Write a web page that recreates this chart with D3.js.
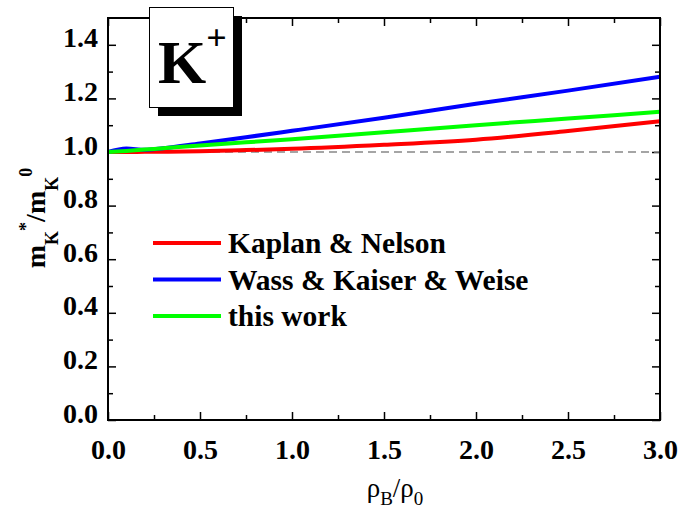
<!DOCTYPE html>
<html>
<head>
<meta charset="utf-8">
<script src="https://cdn.jsdelivr.net/npm/d3@7"></script>
<style>
  body { margin: 0; background: #fff; }
  svg { display: block; }
</style>
</head>
<body>
<div id="chart"></div>
<script>
// density values (rho_B / rho_0)
const rho = [0, 0.1, 0.2, 0.3, 0.5, 0.75, 1.0, 1.5, 2.0, 2.5, 3.0];

// effective mass ratio m*_K / m0_K for each model
const kaplanNelson = [1.0, 1.0, 1.0005, 1.001, 1.003, 1.007, 1.012, 1.027, 1.046, 1.078, 1.115];
const wassKaiserWeise = [1.0, 1.013, 1.008, 1.014, 1.032, 1.055, 1.079, 1.128, 1.18, 1.229, 1.281];
const thisWork = [1.0, 1.004, 1.009, 1.014, 1.024, 1.036, 1.048, 1.074, 1.1, 1.125, 1.15];

const seriesNames = ["Kaplan & Nelson", "Wass & Kaiser & Weise", "this work"];
const seriesColors = ["#ff0000", "#0000ff", "#00ff00"];

const xTicks = [0, 0.5, 1.0, 1.5, 2.0, 2.5, 3.0];
const yTicks = [0, 0.2, 0.4, 0.6, 0.8, 1.0, 1.2, 1.4];

const serif = "'Liberation Serif', 'DejaVu Serif', 'Times New Roman', serif";

const size = {width: 683, height: 509};
const margin = {top: 18, right: 23, bottom: 89, left: 108};
const width = size.width - margin.left - margin.right;
const height = size.height - margin.top - margin.bottom;

const svg = d3.select("#chart").append("svg")
    .attr("width", size.width)
    .attr("height", size.height)
    .style("font-family", serif);

const g = svg.append("g")
    .attr("transform", "translate(" + margin.left + "," + margin.top + ")");

const x = d3.scaleLinear().domain([0, 3.0]).range([0, width]);
const y = d3.scaleLinear().domain([0, 1.5]).range([height, 0]);

const minorX = d3.range(0.25, 3.0, 0.5);
const minorY = d3.range(0.1, 1.5, 0.2);

const fmt = d3.format(".1f");

// axes: ticks point inward on all four sides
function styleAxis(sel) {
    sel.attr("font-family", null);
    sel.select(".domain").remove();
    sel.selectAll("line").attr("stroke", "#000").attr("stroke-width", 1.5);
}

g.append("g")
    .attr("transform", "translate(0," + height + ")")
    .call(d3.axisBottom(x).tickValues(xTicks).tickSize(-8).tickPadding(0).tickFormat(fmt))
    .call(styleAxis)
    .call(a => a.selectAll("text")
        .attr("y", 39).attr("dy", 0)
        .style("font-family", serif)
        .attr("font-size", 28).attr("font-weight", "bold").attr("fill", "#000"));
g.append("g")
    .attr("transform", "translate(0," + height + ")")
    .call(d3.axisBottom(x).tickValues(minorX).tickSize(-5).tickFormat(""))
    .call(styleAxis);
g.append("g")
    .call(d3.axisTop(x).tickValues(xTicks).tickSize(-8).tickFormat(""))
    .call(styleAxis);
g.append("g")
    .call(d3.axisTop(x).tickValues(minorX).tickSize(-5).tickFormat(""))
    .call(styleAxis);

g.append("g")
    .call(d3.axisLeft(y).tickValues(yTicks).tickSize(-8).tickPadding(10).tickFormat(fmt))
    .call(styleAxis)
    .call(a => a.selectAll("text")
        .attr("dy", 2)
        .style("font-family", serif)
        .attr("font-size", 28).attr("font-weight", "bold").attr("fill", "#000"));
g.append("g")
    .call(d3.axisLeft(y).tickValues(minorY).tickSize(-5).tickFormat(""))
    .call(styleAxis);
g.append("g")
    .attr("transform", "translate(" + width + ",0)")
    .call(d3.axisRight(y).tickValues(yTicks).tickSize(-8).tickFormat(""))
    .call(styleAxis);
g.append("g")
    .attr("transform", "translate(" + width + ",0)")
    .call(d3.axisRight(y).tickValues(minorY).tickSize(-5).tickFormat(""))
    .call(styleAxis);

// reference line at 1.0
g.append("line")
    .attr("x1", 0).attr("x2", width)
    .attr("y1", y(1.0)).attr("y2", y(1.0))
    .attr("stroke", "#888").attr("stroke-width", 1.5)
    .attr("stroke-dasharray", "8,5");

// curves
const line = d3.line()
    .x((d, i) => x(rho[i]))
    .y(d => y(d))
    .curve(d3.curveMonotoneX);

[kaplanNelson, wassKaiserWeise, thisWork].forEach((vals, i) => {
    g.append("path")
        .datum(vals)
        .attr("fill", "none")
        .attr("stroke", seriesColors[i])
        .attr("stroke-width", 4)
        .attr("d", line);
});

// frame
g.append("rect")
    .attr("width", width).attr("height", height)
    .attr("fill", "none").attr("stroke", "#000").attr("stroke-width", 2);

// legend
const legend = svg.append("g").attr("transform", "translate(153,243)");
seriesNames.forEach((name, i) => {
    const row = legend.append("g").attr("transform", "translate(0," + (i * 36.5) + ")");
    row.append("line")
        .attr("x1", 0).attr("x2", 68)
        .attr("stroke", seriesColors[i]).attr("stroke-width", 4);
    row.append("text")
        .attr("x", 75).attr("y", 10)
        .style("font-family", serif)
        .attr("font-size", 29.5).attr("font-weight", "bold")
        .text(name);
});

// K+ label box with drop shadow
const box = svg.append("g");
box.append("rect")
    .attr("x", 158).attr("y", 16).attr("width", 84).attr("height", 100)
    .attr("fill", "#000");
box.append("rect")
    .attr("x", 149.5).attr("y", 7.5).attr("width", 84).attr("height", 100)
    .attr("fill", "#fff").attr("stroke", "#000").attr("stroke-width", 1);
const kText = box.append("text")
    .attr("x", 158).attr("y", 83)
    .style("font-family", serif)
    .attr("font-weight", "bold");
kText.append("tspan").attr("font-size", 62).text("K");
kText.append("tspan").attr("font-size", 36).attr("dy", -33).text("+");

// y axis title
const yTitle = svg.append("text")
    .attr("transform", "translate(45,218) rotate(-90)")
    .attr("text-anchor", "middle")
    .style("font-family", serif)
    .attr("font-weight", "bold")
    .attr("font-size", 28);
yTitle.append("tspan").text("m");
yTitle.append("tspan").attr("font-size", 18).attr("dy", 13).text("K");
yTitle.append("tspan").attr("font-size", 18).attr("dy", -26).text("*");
yTitle.append("tspan").attr("dy", 13).text("/m");
yTitle.append("tspan").attr("font-size", 18).attr("dy", 13).text("K");
yTitle.append("tspan").attr("font-size", 18).attr("dy", -26).text("0");

// x axis title
const xTitle = svg.append("text")
    .attr("x", 395).attr("y", 497)
    .attr("text-anchor", "middle")
    .style("font-family", serif)
    .attr("font-size", 27);
xTitle.append("tspan").text("ρ");
xTitle.append("tspan").attr("font-size", 19).attr("dy", 8).text("B");
xTitle.append("tspan").attr("dy", -8).text("/ρ");
xTitle.append("tspan").attr("font-size", 19).attr("dy", 8).text("0");
</script>
</body>
</html>
